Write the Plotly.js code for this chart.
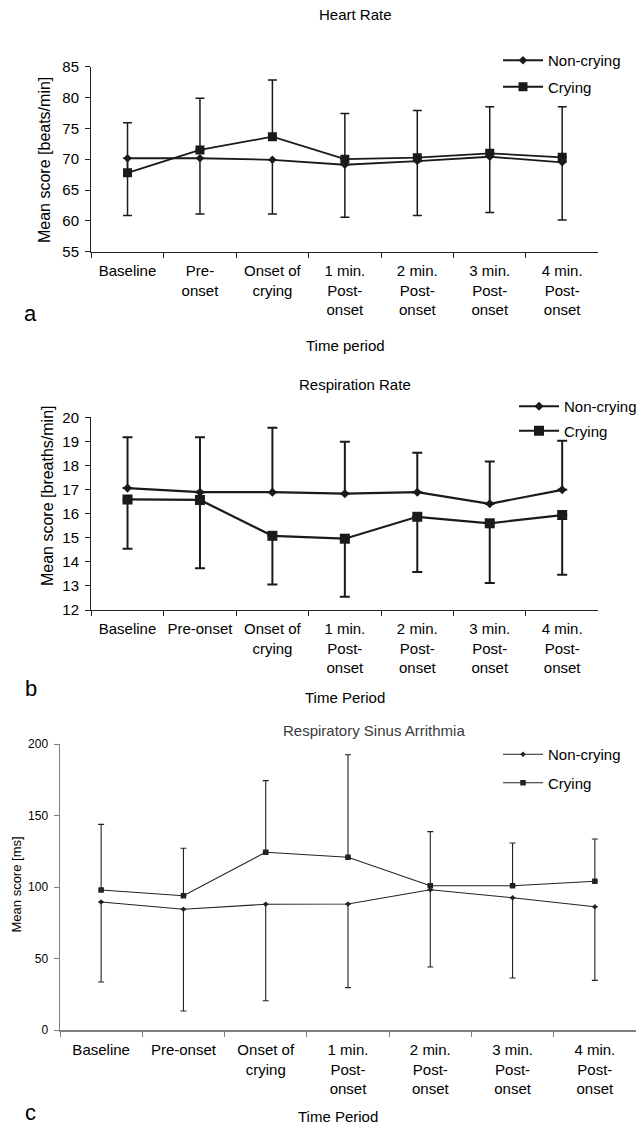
<!DOCTYPE html>
<html>
<head>
<meta charset="utf-8">
<script src="https://cdn.plot.ly/plotly-3.0.1.min.js"></script>
<style>html,body{margin:0;padding:0;background:#fff;}#chart{width:636px;height:1124px;}</style>
</head>
<body>
<div id="chart"></div>
<script>
// ---------- DATA ----------
const catsA = ["Baseline","Pre-<br>onset","Onset of<br>crying","1 min.<br>Post-<br>onset","2 min.<br>Post-<br>onset","3 min.<br>Post-<br>onset","4 min.<br>Post-<br>onset"];
const catsBC = ["Baseline","Pre-onset","Onset of<br>crying","1 min.<br>Post-<br>onset","2 min.<br>Post-<br>onset","3 min.<br>Post-<br>onset","4 min.<br>Post-<br>onset"];
const seriesNames = ["Non-crying","Crying"];

// (a) Heart rate [beats/min]
const hrNonCrying = [70.15, 70.15, 69.9, 69.1, 69.7, 70.4, 69.5];
const hrCrying    = [67.8, 71.5, 73.65, 70.0, 70.25, 70.95, 70.3];
const hrCryingErrPlus   = [8.1, 8.4, 9.2, 7.4, 7.65, 7.55, 8.2];
const hrNonCryingErrMinus = [9.3, 9.05, 8.8, 8.5, 8.85, 9.05, 9.35];

// (b) Respiration rate [breaths/min]
const rrNonCrying = [17.06, 16.89, 16.89, 16.83, 16.89, 16.41, 16.99];
const rrCrying    = [16.59, 16.57, 15.08, 14.96, 15.87, 15.6, 15.94];
const rrNonCryingErrPlus = [2.11, 2.28, 2.68, 2.16, 1.64, 1.75, 2.04];
const rrCryingErrMinus   = [2.05, 2.84, 2.02, 2.41, 2.29, 2.48, 2.48];

// (c) Respiratory sinus arrhythmia [ms]
const rsaNonCrying = [89.5, 84.4, 87.9, 88.1, 98.1, 92.5, 86.2];
const rsaCrying    = [97.9, 93.9, 124.3, 120.8, 100.9, 100.9, 104.0];
const rsaCryingErrPlus    = [45.9, 33.2, 50.1, 71.7, 37.8, 29.9, 29.6];
const rsaNonCryingErrMinus = [55.9, 71.1, 67.4, 58.5, 54.0, 56.1, 51.5];

const noErr = [0, 0, 0, 0, 0, 0, 0];

// ---------- LAYOUT HELPERS ----------
const W = 636, H = 1124;
const FONT = "Liberation Sans, Arial, Helvetica, sans-serif";
const px = v => v / W;
const py = v => 1 - v / H;
const DARK = "#1a1a1a";

function mk(x, y, name, sym, size, lw, color, errPlus, errMinus, capw, errw, xa, ya, leg, grp) {
  return {
    type: "scatter", mode: "lines+markers", x: x, y: y, name: name,
    xaxis: xa, yaxis: ya, legend: leg, legendgroup: grp,
    line: {color: color, width: lw},
    marker: {symbol: sym, size: size, color: color},
    error_y: {type: "data", symmetric: false, array: errPlus, arrayminus: errMinus,
              color: color, thickness: errw, width: capw},
    hoverinfo: "skip"
  };
}

const data = [
  mk(catsA, hrNonCrying, seriesNames[0], "diamond", 6.5, 1.8, DARK, noErr, hrNonCryingErrMinus, 4.5, 1.5, "x", "y", "legend", "a1"),
  mk(catsA, hrCrying, seriesNames[1], "square", 9, 1.8, DARK, hrCryingErrPlus, noErr, 4.5, 1.5, "x", "y", "legend", "a2"),
  mk(catsBC, rrNonCrying, seriesNames[0], "diamond", 7, 2.2, DARK, rrNonCryingErrPlus, noErr, 5, 2, "x2", "y2", "legend2", "b1"),
  mk(catsBC, rrCrying, seriesNames[1], "square", 10, 2.2, DARK, noErr, rrCryingErrMinus, 5, 2, "x2", "y2", "legend2", "b2"),
  mk(catsBC, rsaNonCrying, seriesNames[0], "diamond", 4.2, 1.1, "#222", noErr, rsaNonCryingErrMinus, 3, 1.1, "x3", "y3", "legend3", "c1"),
  mk(catsBC, rsaCrying, seriesNames[1], "square", 5.5, 1.1, "#222", rsaCryingErrPlus, noErr, 3, 1.1, "x3", "y3", "legend3", "c2")
];

function xax(dom, lc, lw) {
  return {domain: dom, type: "category", range: [-0.5, 6.5], tickson: "boundaries",
          ticks: "outside", ticklen: 5, tickcolor: lc, tickwidth: 1, tickangle: 0,
          showline: true, linecolor: lc, linewidth: lw, showgrid: false, zeroline: false,
          tickfont: {family: FONT, size: 15, color: "#000"}, ticklabelstandoff: 5, fixedrange: true};
}
function yax(dom, rng, dt, lc, lw, fs, xref) {
  return {domain: dom, range: rng, dtick: dt, tick0: rng[0], anchor: xref,
          ticks: "outside", ticklen: 5, tickcolor: lc, tickwidth: 1,
          showline: true, linecolor: lc, linewidth: lw, showgrid: false, zeroline: false,
          tickfont: {family: FONT, size: fs, color: "#000"}, ticklabelstandoff: 3, fixedrange: true};
}

const domXab = [px(91.3), px(598.4)];
const domXc = [px(60), 1.0];

function ann(text, x, y, size, opts) {
  return Object.assign({text: text, x: px(x), y: py(y), xref: "paper", yref: "paper",
    showarrow: false, xanchor: "center", yanchor: "middle",
    font: {family: FONT, size: size, color: "#000"}}, opts || {});
}

const legendCommon = {orientation: "v", bgcolor: "rgba(0,0,0,0)", borderwidth: 0,
                      xanchor: "left", yanchor: "top", traceorder: "grouped", itemwidth: 40,
                      font: {family: FONT, size: 15, color: "#000"}};

const layout = {
  width: W, height: H, autosize: false,
  margin: {l: 0, r: 0, t: 0, b: 0, pad: 0, autoexpand: false},
  paper_bgcolor: "#fff", plot_bgcolor: "#fff",
  font: {family: FONT, color: "#000"},
  showlegend: true,
  xaxis: Object.assign(xax(domXab, "#222", 1.3), {anchor: "y"}),
  yaxis: yax([py(251.7), py(66.7)], [55, 85], 5, "#222", 1.3, 15, "x"),
  xaxis2: Object.assign(xax(domXab, "#222", 1.3), {anchor: "y2"}),
  yaxis2: yax([py(610), py(417.3)], [12, 20], 1, "#222", 1.3, 15, "x2"),
  xaxis3: Object.assign(xax(domXc, "#808080", 2), {anchor: "y3"}),
  yaxis3: yax([py(1030), py(744)], [0, 200], 50, "#808080", 1.5, 12, "x3"),
  legend: Object.assign({}, legendCommon, {x: px(498), y: py(44), tracegroupgap: 4}),
  legend2: Object.assign({}, legendCommon, {x: px(514), y: py(390), tracegroupgap: 2}),
  legend3: Object.assign({}, legendCommon, {x: px(498), y: py(738), tracegroupgap: 6}),
  annotations: [
    ann("Heart Rate", 355, 14, 15),
    ann("Respiration Rate", 355, 385, 15),
    ann("Respiratory Sinus Arrithmia", 374, 730, 15, {font: {family: FONT, size: 15, color: "#3a3a3a"}}),
    ann("Time period", 345, 346, 15),
    ann("Time Period", 345, 697, 15),
    ann("Time Period", 338, 1116, 15),
    ann("a", 30, 313, 22),
    ann("b", 31, 688, 22),
    ann("c", 30, 1112, 22),
    ann("Mean score [beats/min]", 45, 160, 16, {textangle: -90}),
    ann("Mean score [breaths/min]", 47, 496, 16, {textangle: -90}),
    ann("Mean score [ms]", 15.5, 885, 13, {textangle: -90})
  ]
};

Plotly.newPlot("chart", data, layout, {staticPlot: true, displayModeBar: false});
</script>
</body>
</html>
